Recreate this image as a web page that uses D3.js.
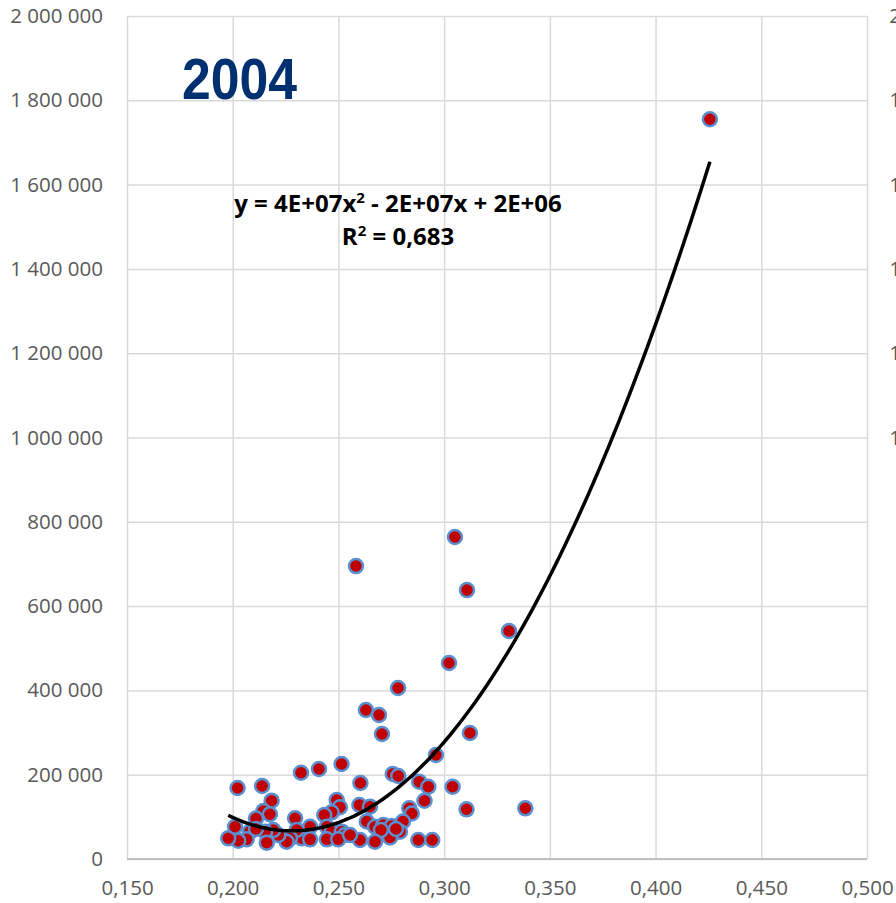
<!DOCTYPE html>
<html>
<head>
<meta charset="utf-8">
<script src="https://cdn.jsdelivr.net/npm/d3@7"></script>
<style>
  body { margin: 0; background: #fff; }
  #my_dataviz text { font-family: "Open Sans", sans-serif; }
</style>
</head>
<body>
<div id="my_dataviz"></div>
<script>
// share (x) vs value (y), year 2004
var xValues = [0.4257, 0.3051, 0.2583, 0.3108, 0.3307, 0.3023, 0.2782, 0.2630, 0.2692, 0.2706,
  0.3122, 0.2961, 0.2323, 0.2408, 0.2515, 0.2023, 0.2139, 0.2604, 0.2757, 0.2783,
  0.2882, 0.2925, 0.3040, 0.2184, 0.2145, 0.2176, 0.2110, 0.2492, 0.2507, 0.2468,
  0.2433, 0.2599, 0.2649, 0.2907, 0.2835, 0.2847, 0.3106, 0.3384, 0.2634, 0.2673,
  0.2712, 0.2752, 0.2805, 0.2791, 0.2744, 0.2878, 0.2944, 0.2701, 0.2602, 0.2673,
  0.2445, 0.2468, 0.2516, 0.2531, 0.2445, 0.2499, 0.2366, 0.2326, 0.2366, 0.2295,
  0.2303, 0.2271, 0.2255, 0.2216, 0.2192, 0.2153, 0.2161, 0.2082, 0.2066, 0.2026,
  0.1979, 0.2011, 0.2555, 0.2772, 0.2110];
var yValues = [1755000, 764000, 695000, 638000, 541000, 465000, 405700, 353500, 341600, 296600,
  298900, 246700, 204700, 213500, 225400, 168400, 173200, 180300, 201700, 196900,
  183400, 171500, 171500, 138300, 113900, 106100, 96100, 140000, 122700, 110800,
  104400, 128100, 124100, 138100, 120300, 107900, 117900, 120300, 89000, 76600,
  80700, 78300, 89000, 64800, 51000, 45100, 45100, 68800, 45100, 41000,
  76600, 64800, 64800, 56900, 46700, 46700, 76600, 49100, 46700, 96600,
  68800, 49100, 41000, 56900, 68800, 64800, 38700, 64800, 46700, 43400,
  49100, 76600, 56900, 71200, 71200];

// polynomial trendline (order 2) as drawn: a*x^2 + b*x + c
var trendCoef = [40600000, -18510000, 2176500];
var trendLabel = ["y = 4E+07x", "2", " - 2E+07x + 2E+06"];
var r2Label = ["R", "2", " = 0,683"];
var title = "2004";

var xTicks = [0.15, 0.2, 0.25, 0.3, 0.35, 0.4, 0.45, 0.5];
var yTicks = [0, 200000, 400000, 600000, 800000, 1000000, 1200000, 1400000, 1600000, 1800000, 2000000];

const margin = {top: 16, right: 29, bottom: 44, left: 127};
const outerWidth = 896;
const outerHeight = 903;
const innerWidth = outerWidth - margin.left - margin.right
const innerHeight = outerHeight - margin.top - margin.bottom
const radius = 7;

const SVG = d3.select("#my_dataviz").append("svg")
  .attr("width", outerWidth)
  .attr("height", outerHeight);
const svg = SVG.append('g')
  .attr("transform", "translate(" + margin.left + "," + margin.top + ")");

const xScale = d3.scaleLinear().domain([0.15, 0.5]).range([0, innerWidth]);
const yScale = d3.scaleLinear().domain([0, 2000000]).range([innerHeight, 0]);

var fmtY = function(d) { return d3.format(",")(d).replace(/,/g, " "); };
var fmtX = function(d) { return d3.format(".3f")(d).replace(".", ","); };

const xAxis = d3.axisBottom(xScale).tickValues(xTicks).tickFormat(fmtX)
  .tickSize(-innerHeight).tickPadding(21);
const yAxis = d3.axisLeft(yScale).tickValues(yTicks).tickFormat(fmtY)
  .tickSize(-innerWidth).tickPadding(24);

const xAxisGroup = svg.append("g")
  .attr("class", "x axis")
  .attr("transform", "translate(0," + innerHeight + ")")
  .call(xAxis);
const yAxisGroup = svg.append("g")
  .attr("class", "y axis")
  .call(yAxis);

[xAxisGroup, yAxisGroup].forEach(function(g) {
  g.select(".domain").remove();
  g.selectAll("line").style("stroke", "#d9d9d9").style("stroke-width", 1.5);
  g.selectAll("text").style("fill", "#595959").style("font-size", "20.5px");
});

// bottom axis line
svg.append("line")
  .attr("x1", 0).attr("x2", innerWidth)
  .attr("y1", innerHeight).attr("y2", innerHeight)
  .style("stroke", "#bfbfbf").style("stroke-width", 2);

// labels of the next chart, cut by the right edge
const nextAxis = d3.axisLeft(yScale).tickValues(yTicks).tickFormat(fmtY)
  .tickSize(0).tickPadding(0);
const nextGroup = SVG.append("g")
  .attr("transform", "translate(" + (margin.left + 855) + "," + margin.top + ")")
  .call(nextAxis);
nextGroup.select(".domain").remove();
nextGroup.selectAll("text").style("fill", "#595959").style("font-size", "20.5px");

// trendline
var xs = d3.extent(xValues);
var curve = d3.range(0, 101).map(function(i) {
  var x = xs[0] + (xs[1] - xs[0]) * i / 100;
  return [x, trendCoef[0] * x * x + trendCoef[1] * x + trendCoef[2]];
});

// points
var points = xValues.map(function(x, i) { return {x: x, y: yValues[i]}; });
svg.selectAll(".dot")
  .data(points).enter().append("circle")
  .attr("class", "dot")
  .attr("cx", function(d) { return xScale(d.x); })
  .attr("cy", function(d) { return yScale(d.y); })
  .attr("r", radius)
  .style("fill", "#c00000")
  .style("stroke", "#5b8fd0")
  .style("stroke-width", 2.5);

svg.append("path")
  .datum(curve)
  .attr("d", d3.line().x(function(d) { return xScale(d[0]); }).y(function(d) { return yScale(d[1]); }))
  .style("fill", "none")
  .style("stroke", "#000")
  .style("stroke-width", 3.5);

// equation
var eq = SVG.append("text")
  .attr("x", 398).attr("y", 212)
  .style("text-anchor", "middle")
  .style("font-size", "24px").style("font-weight", "bold").style("fill", "#000");
eq.append("tspan").text(trendLabel[0]);
eq.append("tspan").attr("dy", -9).style("font-size", "15px").text(trendLabel[1]);
eq.append("tspan").attr("dy", 9).text(trendLabel[2]);

var r2 = SVG.append("text")
  .attr("x", 398).attr("y", 245)
  .style("text-anchor", "middle")
  .style("font-size", "24px").style("font-weight", "bold").style("fill", "#000");
r2.append("tspan").text(r2Label[0]);
r2.append("tspan").attr("dy", -9).style("font-size", "15px").text(r2Label[1]);
r2.append("tspan").attr("dy", 9).text(r2Label[2]);

// title
SVG.append("text")
  .attr("x", 182).attr("y", 99)
  .attr("textLength", 115).attr("lengthAdjust", "spacingAndGlyphs")
  .style("font-family", "'Liberation Sans', Arial, sans-serif")
  .style("font-size", "57px").style("font-weight", "bold").style("fill", "#003070")
  .text(title);
</script>
</body>
</html>
